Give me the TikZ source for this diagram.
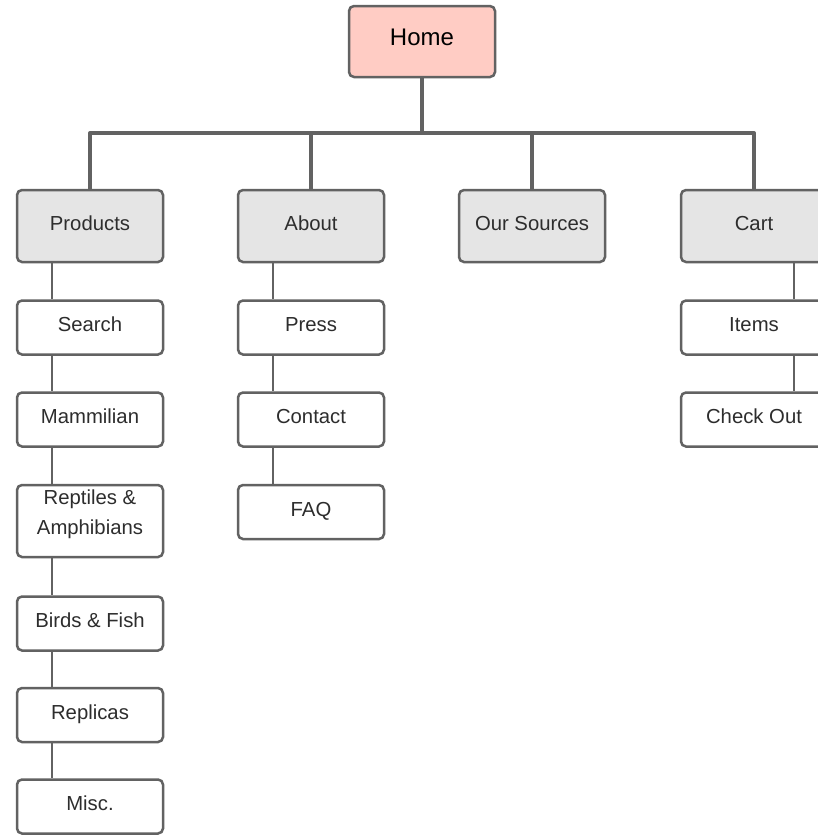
\documentclass[tikz,border=0pt]{standalone}
\usepackage{fontspec}
\setmainfont{Liberation Sans}
\definecolor{edge}{RGB}{98,98,98}
\definecolor{homefill}{RGB}{255,204,196}
\definecolor{topfill}{RGB}{229,229,229}
\definecolor{txt}{RGB}{45,45,45}
\begin{document}
\begin{tikzpicture}[x=1pt,y=-1pt,
  label font/.style={text=txt,font=\fontsize{20.3}{30}\selectfont},
  box/.style={draw=edge,line width=2.5pt,rounded corners=5pt,minimum width=146pt,inner sep=0pt,align=center,label font,text height=15pt,text depth=7pt},
  homebox/.style={box,fill=homefill,minimum height=71pt,text=black,font=\fontsize{24}{28}\selectfont,text height=16pt,text depth=8.8pt},
  topbox/.style={box,fill=topfill,minimum height=72pt},
  leaf/.style={box,fill=white,minimum height=54pt},
  bus/.style={draw=edge,line width=4pt},
  link/.style={draw=edge,line width=2pt}]
\useasboundingbox (0,0) rectangle (817,835);
\fill[white] (0,0) rectangle (817,835);
% top
\node[homebox] (home) at (422,41.5) {Home};
\node[topbox] (products) at (90,226) {Products};
\node[topbox] (about) at (311,226) {About};
\node[topbox] (sources) at (532,226) {Our Sources};
\node[topbox] (cart) at (754,226) {Cart};
% products children
\node[leaf] (search) at (90,327.5) {Search};
\node[leaf] (mammal) at (90,419.5) {Mammilian};
\node[leaf,minimum height=72pt] (reptiles) at (90,521) {};
\node[label font,align=center,inner sep=0pt] (reptilestext) at (90,514) {Reptiles \&\\Amphibians};
\node[leaf] (birds) at (90,623.5) {Birds \& Fish};
\node[leaf] (replicas) at (90,715) {Replicas};
\node[leaf] (misc) at (90,806.5) {Misc.};
% about children
\node[leaf] (press) at (311,327.5) {Press};
\node[leaf] (contact) at (311,419.5) {Contact};
\node[leaf] (faq) at (311,512) {FAQ};
% cart children
\node[leaf] (items) at (754,327.5) {Items};
\node[leaf] (checkout) at (754,419.5) {Check Out};
% bus
\coordinate (bus) at (422,133);
\draw[bus] (home.south) -- (bus);
\draw[bus,line join=round] (products.north) |- (bus) -| (cart.north);
\draw[bus] (about.north) -- (about.north |- bus);
\draw[bus] (sources.north) -- (sources.north |- bus);
% child links
\foreach \a/\b in {products/search,search/mammal,mammal/reptiles,reptiles/birds,birds/replicas,replicas/misc,about/press,press/contact,contact/faq}
  \draw[link] ([xshift=36pt]\a.south west) -- ([xshift=36pt]\b.north west);
\foreach \a/\b in {cart/items,items/checkout}
  \draw[link] ([xshift=40pt]\a.south) -- ([xshift=40pt]\b.north);
\end{tikzpicture}
\end{document}
